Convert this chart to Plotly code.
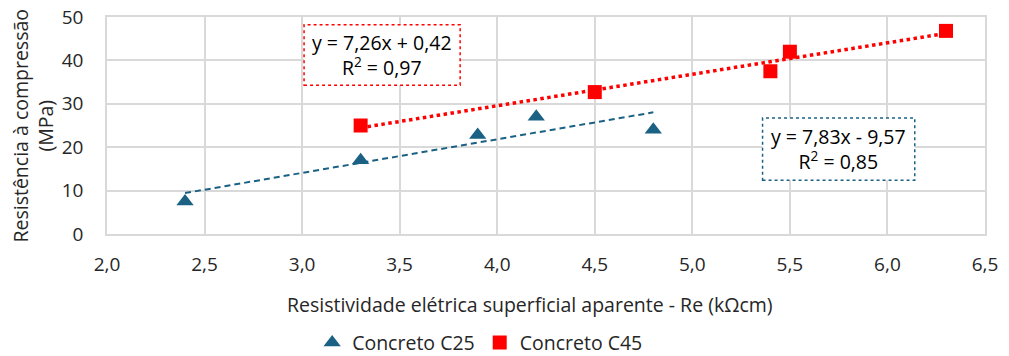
import numpy as np
import plotly.graph_objects as go

# Data
c25_x = [2.4, 3.3, 3.9, 4.2, 4.8]
c25_y = [7.5, 17.0, 22.8, 27.0, 24.0]
c45_x = [3.3, 4.5, 5.4, 5.5, 6.3]
c45_y = [25.0, 32.7, 37.5, 42.0, 46.8]

c25_name = "Concreto C25"
c45_name = "Concreto C45"
c45_eq = "y = 7,26x + 0,42<br>R<sup>2</sup> = 0,97"
c25_eq = "y = 7,83x - 9,57<br>R<sup>2</sup> = 0,85"

x_title = "Resistividade elétrica superficial aparente - Re (kΩcm)"
y_title = "Resistência à compressão<br>(MPa)"

blue = "#1a6184"
red = "#ff0000"
grid = "#d9d9d9"
font_fam = "Open Sans, sans-serif"
txt = "#262626"
fs = 19.5
tfs = 19

def trend(xs, ys):
    m, b = np.polyfit(xs, ys, 1)
    tx = [min(xs), max(xs)]
    return tx, [m * v + b for v in tx]

fig = go.Figure()

t25x, t25y = trend(c25_x, c25_y)
t45x, t45y = trend(c45_x, c45_y)

fig.add_trace(go.Scatter(x=t25x, y=t25y, mode="lines",
                         line=dict(color=blue, width=2, dash="6px,4px"),
                         showlegend=False, hoverinfo="skip"))
fig.add_trace(go.Scatter(x=t45x, y=t45y, mode="lines",
                         line=dict(color=red, width=3.5, dash="dot"),
                         showlegend=False, hoverinfo="skip"))

fig.add_trace(go.Scatter(x=c25_x, y=c25_y, mode="markers", name=c25_name,
                         marker=dict(symbol="triangle-up", size=15, color=blue)))
fig.add_trace(go.Scatter(x=c45_x, y=c45_y, mode="markers", name=c45_name,
                         marker=dict(symbol="square", size=14, color=red)))

# equation boxes
fig.add_shape(type="rect", xref="x", yref="y", x0=3.01, x1=3.81, y0=34.3, y1=48.2,
              line=dict(color=red, width=1.5, dash="dot"), fillcolor="white", layer="above")
fig.add_shape(type="rect", xref="x", yref="y", x0=5.36, x1=6.14, y0=12.4, y1=26.7,
              line=dict(color=blue, width=1.5, dash="dot"), fillcolor="white", layer="above")
fig.add_annotation(x=3.41, y=41.2, xref="x", yref="y", text=c45_eq, showarrow=False,
                   font=dict(size=fs, color="#000000", family=font_fam), align="center")
fig.add_annotation(x=5.75, y=19.6, xref="x", yref="y", text=c25_eq, showarrow=False,
                   font=dict(size=fs, color="#000000", family=font_fam), align="center")

# axis titles
fig.add_annotation(x=-0.0854, y=0.5, xref="paper", yref="paper", text=y_title,
                   textangle=-90, showarrow=False, xanchor="center", yanchor="middle",
                   font=dict(size=fs, color=txt, family=font_fam), align="center")
fig.add_annotation(x=0.482, y=-0.327, xref="paper", yref="paper", text=x_title,
                   showarrow=False, xanchor="center", yanchor="middle",
                   font=dict(size=fs, color=txt, family=font_fam))

fig.update_layout(
    width=1009, height=356,
    margin=dict(l=107, r=24, t=17, b=122, autoexpand=False),
    plot_bgcolor="white", paper_bgcolor="white",
    separators=",.",
    font=dict(family=font_fam, size=fs, color=txt),
    legend=dict(orientation="h", x=0.425, xanchor="center", y=-0.502, yanchor="middle",
                font=dict(size=fs, color=txt), itemwidth=30),
    xaxis=dict(range=[2.0, 6.5], dtick=0.5, tickformat=".1f", showgrid=True,
               gridcolor=grid, gridwidth=1.5, zeroline=False, showline=True,
               linecolor=grid, linewidth=1.5, mirror=True, ticks="",
               automargin=False, ticklabelstandoff=12, tickfont=dict(size=tfs)),
    yaxis=dict(range=[0, 50], dtick=10, showgrid=True, gridcolor=grid, gridwidth=1.5,
               zeroline=False, showline=True, linecolor=grid, linewidth=1.5, mirror=True,
               ticks="", ticklabelstandoff=18, automargin=False, tickfont=dict(size=tfs)),
)

fig.write_html("out.html", config={"displayModeBar": False},
               post_script="document.body.style.margin='0';document.body.style.overflow='hidden';")
